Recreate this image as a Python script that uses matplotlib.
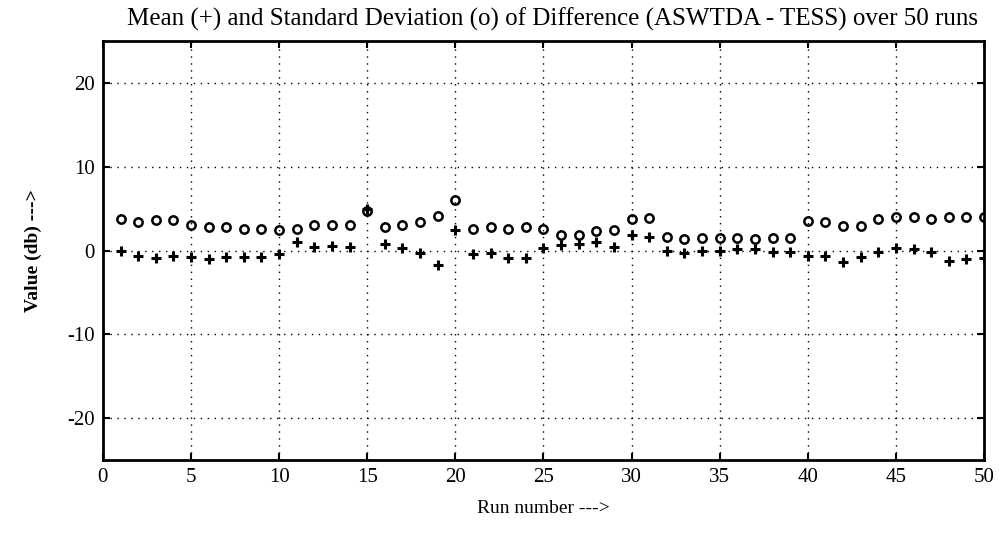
import numpy as np
import matplotlib
matplotlib.use("Agg")
import matplotlib.pyplot as plt

runs = list(range(1, 51))
mean_vals = [-0.1, -0.6, -0.9, -0.6, -0.8, -1.0, -0.8, -0.8, -0.8, -0.4,
             1.05, 0.43, 0.55, 0.43, 4.9, 0.74, 0.35, -0.35, -1.7, 2.5,
             -0.43, -0.27, -0.94, -0.94, 0.35, 0.62, 0.74, 1.05, 0.47, 1.83,
             1.6, -0.04, -0.35, -0.04, -0.04, 0.16, 0.16, -0.23, -0.23, -0.7,
             -0.7, -1.33, -0.82, -0.23, 0.27, 0.16, -0.23, -1.2, -1.0, -0.9]
std_vals = [3.78, 3.39, 3.59, 3.59, 3.0, 2.8, 2.8, 2.6, 2.6, 2.4,
            2.6, 3.08, 3.08, 3.08, 4.7, 2.8, 3.08, 3.39, 4.13, 6.08,
            2.57, 2.8, 2.57, 2.8, 2.6, 1.9, 1.9, 2.3, 2.5, 3.74,
            3.86, 1.6, 1.32, 1.44, 1.44, 1.44, 1.32, 1.44, 1.44, 3.47,
            3.35, 2.88, 2.88, 3.78, 4.05, 3.94, 3.78, 4.05, 4.05, 4.05]
xticks = [0, 5, 10, 15, 20, 25, 30, 35, 40, 45, 50]
yticks = [-20, -10, 0, 10, 20]

plt.rcParams['font.family'] = ['Liberation Serif', 'DejaVu Serif']
plt.rcParams['axes.unicode_minus'] = False

fig = plt.figure(figsize=(9.99, 5.33), dpi=100)
ax = fig.add_axes([0.103, 0.137, 0.882, 0.786])

ax.plot(runs, mean_vals, linestyle='none', marker='+', color='black',
        markersize=7, markeredgewidth=2.2)
ax.plot(runs, std_vals, linestyle='none', marker='o', color='black',
        markerfacecolor='none', markersize=6, markeredgewidth=1.8)

ax.set_xlim(0, 50)
ax.set_ylim(-25, 25)
ax.set_xticks(xticks)
ax.set_yticks(yticks)
ax.tick_params(direction='in', length=5, width=1.5, labelsize=15,
               top=True, right=True, pad=6)
ax.grid(True, linestyle=(0, (1, 4)), color='black', linewidth=1.0)
for s in ax.spines.values():
    s.set_linewidth(2)

ax.set_title('Mean (+) and Standard Deviation (o) of Difference (ASWTDA - TESS) over 50 runs',
             fontsize=18, pad=11, x=0.51)
ax.set_xlabel('Run number --->', fontsize=14, labelpad=9)
ax.set_ylabel('Value (db) --->', fontsize=14, fontweight='bold', labelpad=18)

fig.savefig('out.png', dpi=100)
